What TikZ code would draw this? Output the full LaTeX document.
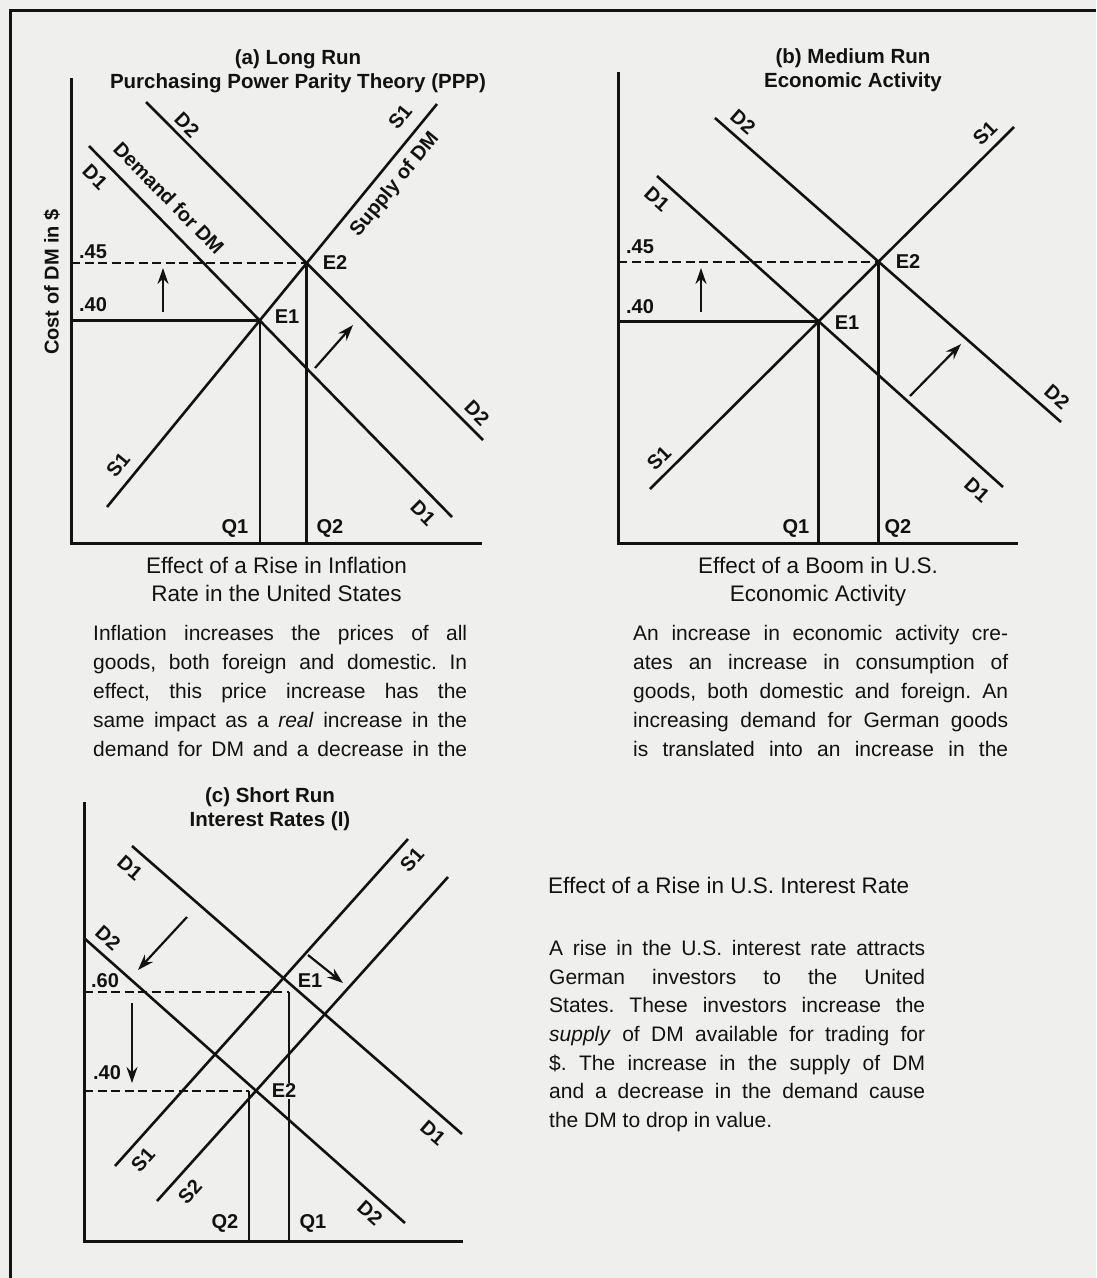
\documentclass[tikz,border=0pt]{standalone}
\usepackage{fontspec}
\setmainfont{Liberation Sans}
\usetikzlibrary{arrows.meta, positioning, calc}

\definecolor{paper}{RGB}{239,239,237}
\definecolor{ink}{RGB}{18,18,18}

% one justified line of fixed width
\newcommand{\jline}[2][374pt]{\makebox[#1][s]{#2}}
\AtBeginDocument{\frenchspacing}

\begin{document}
\begin{tikzpicture}[
    x=1pt, y=-1pt,
    curve/.style={ink, line width=2.6pt},
    axisline/.style={ink, line width=3pt},
    guide/.style={ink, line width=2.4pt},
    dguide/.style={guide, dash pattern=on 9pt off 4.5pt},
    shiftarrow/.style={-{Stealth[length=16pt, width=11pt]}, ink, line width=2.2pt},
    lbl/.style={font=\fontsize{20}{22}\selectfont\bfseries, text=ink, inner sep=0pt},
    heading/.style={font=\fontsize{20.5}{24}\selectfont\bfseries, text=ink,
                    align=center, inner sep=0pt, anchor=north},
    caption/.style={font=\fontsize{22.5}{28}\selectfont, text=ink,
                    align=center, inner sep=0pt},
    para/.style={font=\fontsize{21}{29}\selectfont, text=ink,
                 align=left, inner sep=0pt, anchor=north west},
]

% ===================== PAGE =====================
\fill[paper] (0,0) rectangle (1096,1278);
\useasboundingbox (0,0) rectangle (1096,1278);
\draw[ink, line width=3pt] (10,1278) -- (10,10) -- (1096,10);

% ===================== (a) LONG RUN =====================
\coordinate (aO) at (71,543);
\coordinate (aTop) at (71,78);
\coordinate (aEnd) at (482,543);
\coordinate (aD1s) at (89,146);  \coordinate (aD1e) at (452,517);
\coordinate (aD2s) at (146,102); \coordinate (aD2e) at (483,440);
\coordinate (aS1s) at (107,507); \coordinate (aS1e) at (437,104);
\coordinate (aE1) at (intersection of aD1s--aD1e and aS1s--aS1e);
\coordinate (aE2) at (intersection of aD2s--aD2e and aS1s--aS1e);
\coordinate (aMid) at ($(aO)!0.5!(aEnd)$);

\node[heading] (aTitle) at (298,49) {(a) Long Run\\Purchasing Power Parity Theory (PPP)};
\node[lbl, rotate=90] (aYlab) at (52,282) {Cost of DM in \$};

\draw[axisline] (aTop) -- (aO) -- (aEnd);
\draw[curve] (aD1s) -- (aD1e);
\draw[curve] (aD2s) -- (aD2e);
\draw[curve] (aS1s) -- (aS1e);

% price and quantity guides
\draw[guide] (aO |- aE1) -- (aE1) -- (aE1 |- aO);
\draw[dguide] (aO |- aE2) -- (aE2);
\draw[guide] (aE2) -- (aE2 |- aO);

% shifts
\coordinate (aUpA) at (163,312); \coordinate (aUpB) at (163,268);
\coordinate (aDgA) at (315,368); \coordinate (aDgB) at (353,325);
\draw[shiftarrow] (aUpA) -- (aUpB);
\draw[shiftarrow] (aDgA) -- (aDgB);

\foreach \x/\y/\t/\r [count=\i] in {187/125/D2/-45, 95/177/D1/-45,
    169/198/Demand for DM/-45.6, 400/117/S1/50.7, 395/185/Supply of DM/50.7,
    93/252/.45/0, 93/305/.40/0, 335/263/E2/0, 287/317/E1/0,
    477/413/D2/-45, 423/513/D1/-45, 118/465/S1/50.7, 235/528/Q1/0, 330/528/Q2/0} {
    \node[lbl, rotate=\r] (aLab\i) at (\x,\y) {\t};
}

\node[caption, below=14pt of aMid] (aCap) {Effect of a Rise in Inflation\\Rate in the United States};

\node[para] (aText) at (93,625) {%
    \jline{Inflation increases the prices of all}\\
    \jline{goods, both foreign and domestic. In}\\
    \jline{effect, this price increase has the}\\
    \jline{same impact as a \textit{real} increase in the}\\
    \jline{demand for DM and a decrease in the}};

% ===================== (b) MEDIUM RUN =====================
\coordinate (bO) at (618,543);
\coordinate (bTop) at (618,72);
\coordinate (bEnd) at (1018,543);
\coordinate (bD1s) at (657,176); \coordinate (bD1e) at (1003,487);
\coordinate (bD2s) at (715,118); \coordinate (bD2e) at (1061,422);
\coordinate (bS1s) at (650,489); \coordinate (bS1e) at (1014,127);
\coordinate (bE1) at (intersection of bD1s--bD1e and bS1s--bS1e);
\coordinate (bE2) at (intersection of bD2s--bD2e and bS1s--bS1e);
\coordinate (bMid) at ($(bO)!0.5!(bEnd)$);

\node[heading] (bTitle) at (853,48) {(b) Medium Run\\Economic Activity};

\draw[axisline] (bTop) -- (bO) -- (bEnd);
\draw[curve] (bD1s) -- (bD1e);
\draw[curve] (bD2s) -- (bD2e);
\draw[curve] (bS1s) -- (bS1e);

\draw[guide] (bO |- bE1) -- (bE1) -- (bE1 |- bO);
\draw[dguide] (bO |- bE2) -- (bE2);
\draw[guide] (bE2) -- (bE2 |- bO);

\coordinate (bUpA) at (701,312); \coordinate (bUpB) at (701,268);
\coordinate (bDgA) at (910,396); \coordinate (bDgB) at (961,344);
\draw[shiftarrow] (bUpA) -- (bUpB);
\draw[shiftarrow] (bDgA) -- (bDgB);

\foreach \x/\y/\t/\r [count=\i] in {743/122/D2/-41.3, 985/133/S1/44.8,
    657/199/D1/-42, 640/247/.45/0, 640/307/.40/0, 908/262/E2/0, 847/323/E1/0,
    1057/397/D2/-41.3, 977/490/D1/-42, 659/458/S1/44.8, 796/528/Q1/0, 898/528/Q2/0} {
    \node[lbl, rotate=\r] (bLab\i) at (\x,\y) {\t};
}

\node[caption, below=14pt of bMid] (bCap) {Effect of a Boom in U.S.\\Economic Activity};

\node[para] (bText) at (633,625) {%
    \jline[375pt]{An increase in economic activity cre-}\\
    \jline[375pt]{ates an increase in consumption of}\\
    \jline[375pt]{goods, both domestic and foreign. An}\\
    \jline[375pt]{increasing demand for German goods}\\
    \jline[375pt]{is translated into an increase in the}};

% ===================== (c) SHORT RUN =====================
\coordinate (cO) at (84,1241);
\coordinate (cTop) at (84,802);
\coordinate (cEnd) at (463,1241);
\coordinate (cD1s) at (132,846); \coordinate (cD1e) at (462,1134);
\coordinate (cD2s) at (84,938);  \coordinate (cD2e) at (405,1223);
\coordinate (cS1s) at (115,1166); \coordinate (cS1e) at (408,839);
\coordinate (cS2s) at (157,1201); \coordinate (cS2e) at (448,877);
\coordinate (c60) at (289,992);
\coordinate (c40) at (249,1091);

\node[heading] (cTitle) at (270,787) {(c) Short Run\\Interest Rates (I)};

\draw[axisline] (cTop) -- (cO) -- (cEnd);
\draw[curve] (cD1s) -- (cD1e);
\draw[curve] (cD2s) -- (cD2e);
\draw[curve] (cS1s) -- (cS1e);
\draw[curve] (cS2s) -- (cS2e);

\draw[dguide] (cO |- c60) -- (c60);
\draw[guide] (c60) -- (c60 |- cO);
\draw[dguide] (cO |- c40) -- (c40);
\draw[guide] (c40) -- (c40 |- cO);

\coordinate (cDlA) at (187,917); \coordinate (cDlB) at (138,970);
\coordinate (cDnA) at (132,1003); \coordinate (cDnB) at (132,1083);
\coordinate (cDrA) at (308,955); \coordinate (cDrB) at (343,983);
\draw[shiftarrow] (cDlA) -- (cDlB);
\draw[shiftarrow] (cDnA) -- (cDnB);
\draw[shiftarrow] (cDrA) -- (cDrB);

\foreach \x/\y/\t/\r [count=\i] in {130/868/D1/-41, 108/938/D2/-41.6,
    412/860/S1/48, 105/981/.60/0, 107/1073/.40/0, 310/981/E1/0,
    433/1133/D1/-41, 370/1213/D2/-41.6, 143/1160/S1/48, 190/1192/S2/48,
    225/1223/Q2/0, 313/1223/Q1/0} {
    \node[lbl, rotate=\r] (cLab\i) at (\x,\y) {\t};
}
\node[lbl, fill=paper, inner sep=1pt] (cE2) at (284,1091) {E2};

\node[caption, anchor=west] (cCap) at (548,885) {Effect of a Rise in U.S. Interest Rate};

\node[para, font=\fontsize{21}{28.7}\selectfont] (cText) at (549,940) {%
    \jline[376pt]{A rise in the U.S. interest rate attracts}\\
    \jline[376pt]{German investors to the United}\\
    \jline[376pt]{States. These investors increase the}\\
    \jline[376pt]{\textit{supply} of DM available for trading for}\\
    \jline[376pt]{\$. The increase in the supply of DM}\\
    \jline[376pt]{and a decrease in the demand cause}\\
    the DM to drop in value.};

\end{tikzpicture}
\end{document}
